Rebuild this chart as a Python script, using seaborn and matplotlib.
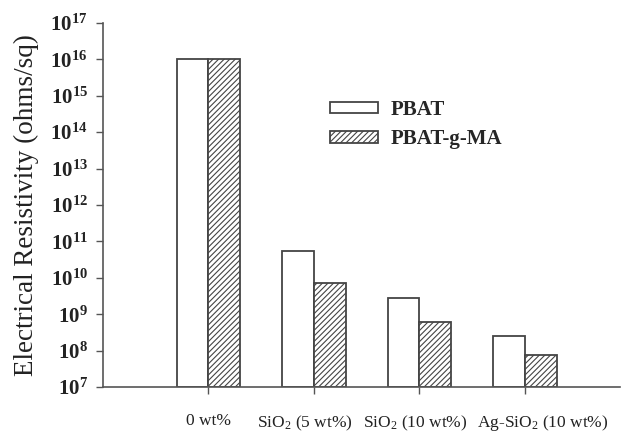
import matplotlib
matplotlib.use("Agg")
import matplotlib.pyplot as plt
import matplotlib.ticker as mticker
import matplotlib.transforms as mtransforms
import pandas as pd
import seaborn as sns

# data
categories = ["0 wt%", "SiO$_2$ (5 wt%)", "SiO$_2$ (10 wt%)", "Ag-SiO$_2$ (10 wt%)"]
pbat = [1.0e16, 5.6e10, 2.8e9, 2.5e8]
pbat_g_ma = [1.0e16, 7.1e9, 6.1e8, 7.6e7]
series = ["PBAT", "PBAT-g-MA"]
y_floor = 1e7
y_exponents = list(range(7, 18))

df = pd.DataFrame({
    "cat": categories * 2,
    "val": pbat + pbat_g_ma,
    "grp": [series[0]] * 4 + [series[1]] * 4,
})

sns.set_theme(style="white")
plt.rcParams["font.family"] = ["Liberation Serif", "DejaVu Serif"]
plt.rcParams["mathtext.default"] = "regular"
plt.rcParams["hatch.color"] = "#555555"
plt.rcParams["hatch.linewidth"] = 0.8

fig = plt.figure(figsize=(6.23, 4.33), dpi=100)
ax = fig.add_axes([0.1653, 0.1062, 0.8297, 0.8408])

sns.barplot(data=df, x="cat", y="val", hue="grp", order=categories,
            hue_order=series, width=0.6,
            palette=["white", "white"], edgecolor="#444444", linewidth=1.3,
            legend=False, ax=ax)
ax.set_yscale("log")

# bars start at the bottom of the log axis
for cont in ax.containers:
    for bar in cont:
        top = bar.get_y() + bar.get_height()
        bar.set_y(y_floor)
        bar.set_height(top - y_floor)
for bar in ax.containers[1]:
    bar.set_hatch("//////")

ax.set_ylim(1e7, 1e17)
ax.set_xlim(-1.0, 3.9)
ax.set_yticks([10.0 ** e for e in y_exponents])
ax.yaxis.set_minor_locator(mticker.NullLocator())
ax.yaxis.set_major_formatter(mticker.LogFormatterMathtext())

for s in ["top", "right"]:
    ax.spines[s].set_visible(False)
for s in ["left", "bottom"]:
    ax.spines[s].set_color("#555555")
    ax.spines[s].set_linewidth(1.2)

ax.tick_params(axis="y", which="major", direction="out", length=5, width=1,
               color="#555555", left=True, labelsize=15, pad=6)
ax.tick_params(axis="x", direction="out", length=5, width=1, color="#555555",
               bottom=True, labelsize=12.5, pad=14)
for t in ax.get_yticklabels():
    t.set_fontweight("bold")
    t.set_color("#222222")

# small sideways nudges of the x labels, as in the reference
shifts = [0, -9, -4, 18]
for t, dx in zip(ax.get_xticklabels(), shifts):
    t.set_color("#222222")
    t.set_transform(t.get_transform() + mtransforms.ScaledTranslation(dx / 100, 0, fig.dpi_scale_trans))

ax.set_xlabel("")
ax.set_ylabel("Electrical Resistivity (ohms/sq)", fontsize=19.5, color="#222222", labelpad=8)

handles = [ax.containers[0][0], ax.containers[1][0]]
leg = ax.legend(handles, series, loc="upper left", bbox_to_anchor=(0.403, 0.84),
                frameon=False, prop={"weight": "bold", "size": 15},
                handlelength=2.3, handleheight=0.48, labelspacing=0.45,
                handletextpad=0.6)

plt.savefig("out.png", dpi=100)
